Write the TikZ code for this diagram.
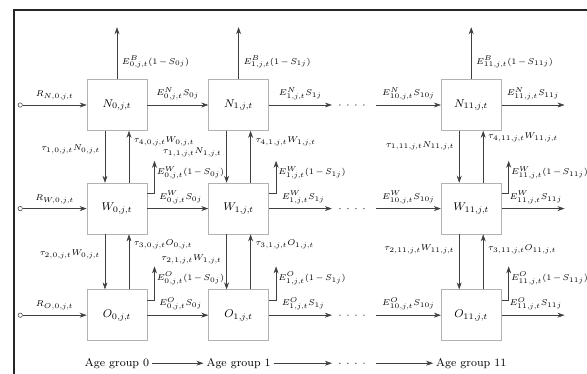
\documentclass[tikz,border=0pt]{standalone}
\usepackage{amsmath,amssymb}
\usetikzlibrary{arrows.meta, positioning, calc}
\newcommand{\jt}[1]{#1,\mkern-1mu j,\mkern-1mu t}

\begin{document}
\medmuskip=2.5mu
\begin{tikzpicture}[x=0.025cm, y=-0.025cm, font=\fontsize{6.5}{8}\selectfont, >={Stealth[length=5pt,width=3.5pt]},
    box/.style={draw=black!30, minimum width=1.5cm, minimum height=1.275cm, font=\footnotesize},
    flow/.style={->, draw=black!75},
    inflow/.style={circle, draw=black!75, inner sep=1.1pt},
    agelabel/.style={font=\footnotesize, inner sep=2pt},
    gapdots/.style={draw=black!75, line width=1pt, line cap=round, dash pattern=on 0pt off 5.7pt}]
    \useasboundingbox (0,0) rectangle (587,374);
    \draw[line width=1.6pt, black!85] (14,374) -- (14,10) -- (587,10);

    % compartments
    \node[box] (N0) at (117,105) {$N_{\jt{0}}$};
    \node[box, right=1.525cm of N0] (N1) {$N_{\jt{1}}$};
    \node[box, right=4.3cm of N1] (N11) {$N_{\jt{11}}$};
    \node[box, below=1.3cm of N0] (W0) {$W_{\jt{0}}$};
    \node[box, below=1.3cm of N1] (W1) {$W_{\jt{1}}$};
    \node[box, below=1.3cm of N11] (W11) {$W_{\jt{11}}$};
    \node[box, below=1.375cm of W0] (O0) {$O_{\jt{0}}$};
    \node[box, below=1.375cm of W1] (O1) {$O_{\jt{1}}$};
    \node[box, below=1.375cm of W11] (O11) {$O_{\jt{11}}$};

    % recruitment
    \node[inflow, left=1.6cm of N0] (rN) {};
    \node[inflow, left=1.6cm of W0] (rW) {};
    \node[inflow, left=1.6cm of O0] (rO) {};
    \draw[flow] (rN) -- node[above] {$R_{N,\jt{0}}$} (N0);
    \draw[flow] (rW) -- node[above] {$R_{W,\jt{0}}$} (W0);
    \draw[flow] (rO) -- node[above] {$R_{O,\jt{0}}$} (O0);

    % ageing, row N
    \coordinate[right=1.575cm of N1] (gN1);
    \coordinate[left=1.625cm of N11] (gN11);
    \coordinate[right=1.575cm of N11] (oN);
    \draw[flow] (N0) -- node[above] {$E^{N}_{\jt{0}}S_{0j}$} (N1);
    \draw[flow] (N1) -- node[above] {$E^{N}_{\jt{1}}S_{1j}$} (gN1);
    \draw[gapdots] ([xshift=0.2cm]gN1) -- ([xshift=-0.12cm]gN11);
    \draw[flow] (gN11) -- node[above] {$E^{N}_{\jt{10}}S_{10j}$} (N11);
    \draw[flow] (N11) -- node[above] {$E^{N}_{\jt{11}}S_{11j}$} (oN);

    % ageing, row W
    \coordinate[right=1.575cm of W1] (gW1);
    \coordinate[left=1.625cm of W11] (gW11);
    \coordinate[right=1.575cm of W11] (oW);
    \draw[flow] (W0) -- node[above, xshift=2pt] {$E^{W}_{\jt{0}}S_{0j}$} (W1);
    \draw[flow] (W1) -- node[above, xshift=2pt] {$E^{W}_{\jt{1}}S_{1j}$} (gW1);
    \draw[gapdots] ([xshift=0.2cm]gW1) -- ([xshift=-0.12cm]gW11);
    \draw[flow] (gW11) -- node[above] {$E^{W}_{\jt{10}}S_{10j}$} (W11);
    \draw[flow] (W11) -- node[above, xshift=2pt] {$E^{W}_{\jt{11}}S_{11j}$} (oW);

    % ageing, row O
    \coordinate[right=1.575cm of O1] (gO1);
    \coordinate[left=1.625cm of O11] (gO11);
    \coordinate[right=1.575cm of O11] (oO);
    \draw[flow] (O0) -- node[above, xshift=2pt] {$E^{O}_{\jt{0}}S_{0j}$} (O1);
    \draw[flow] (O1) -- node[above, xshift=2pt] {$E^{O}_{\jt{1}}S_{1j}$} (gO1);
    \draw[gapdots] ([xshift=0.2cm]gO1) -- ([xshift=-0.12cm]gO11);
    \draw[flow] (gO11) -- node[above] {$E^{O}_{\jt{10}}S_{10j}$} (O11);
    \draw[flow] (O11) -- node[above, xshift=2pt] {$E^{O}_{\jt{11}}S_{11j}$} (oO);

    % losses from N
    \coordinate[above=1.3cm of N0] (bN0);
    \coordinate[above=1.3cm of N1] (bN1);
    \coordinate[above=1.3cm of N11] (bN11);
    \draw[flow] (N0) -- node[right, pos=0.33] {$E^{B}_{\jt{0}}(1-S_{0j})$} (bN0);
    \draw[flow] (N1) -- node[right, pos=0.33] {$E^{B}_{\jt{1}}(1-S_{1j})$} (bN1);
    \draw[flow] (N11) -- node[right, pos=0.33] {$E^{B}_{\jt{11}}(1-S_{11j})$} (bN11);

    % losses from W and O
    \draw[flow] ([yshift=-0.25cm]W0.north east) -- ++(0.18cm,0) -- node[right, pos=0.62, inner sep=1.5pt] {$E^{W}_{\jt{0}}(1-S_{0j})$} ++(0,0.8cm);
    \draw[flow] ([yshift=-0.25cm]W1.north east) -- ++(0.18cm,0) -- node[right, pos=0.62, inner sep=1.5pt] {$E^{W}_{\jt{1}}(1-S_{1j})$} ++(0,0.8cm);
    \draw[flow] ([yshift=-0.25cm]W11.north east) -- ++(0.18cm,0) -- node[right, pos=0.62, inner sep=1.5pt] {$E^{W}_{\jt{11}}(1-S_{11j})$} ++(0,0.8cm);
    \draw[flow] ([yshift=-0.275cm]O0.north east) -- ++(0.18cm,0) -- node[right, pos=0.65, inner sep=1.5pt] {$E^{O}_{\jt{0}}(1-S_{0j})$} ++(0,0.85cm);
    \draw[flow] ([yshift=-0.275cm]O1.north east) -- ++(0.18cm,0) -- node[right, pos=0.65, inner sep=1.5pt] {$E^{O}_{\jt{1}}(1-S_{1j})$} ++(0,0.85cm);
    \draw[flow] ([yshift=-0.275cm]O11.north east) -- ++(0.18cm,0) -- node[right, pos=0.65, inner sep=1.5pt] {$E^{O}_{\jt{11}}(1-S_{11j})$} ++(0,0.85cm);

    % transitions N <-> W
    \draw[flow] ([xshift=-0.3cm]N0.south) -- node[left, pos=0.35] {$\tau_{1,\jt{0}}N_{\jt{0}}$} ([xshift=-0.3cm]W0.north);
    \draw[flow] ([xshift=0.3cm]W0.north) -- node[right, pos=0.8] {$\tau_{4,\jt{0}}W_{\jt{0}}$} ([xshift=0.3cm]N0.south);
    \draw[flow] ([xshift=-0.3cm]N1.south) -- node[left, pos=0.42] {$\tau_{1,\jt{1}}N_{\jt{1}}$} ([xshift=-0.3cm]W1.north);
    \draw[flow] ([xshift=0.3cm]W1.north) -- node[right, pos=0.8] {$\tau_{4,\jt{1}}W_{\jt{1}}$} ([xshift=0.3cm]N1.south);
    \draw[flow] ([xshift=-0.3cm]N11.south) -- node[left, pos=0.29] {$\tau_{1,\jt{11}}N_{\jt{11}}$} ([xshift=-0.3cm]W11.north);
    \draw[flow] ([xshift=0.3cm]W11.north) -- node[right, pos=0.88] {$\tau_{4,\jt{11}}W_{\jt{11}}$} ([xshift=0.3cm]N11.south);

    % transitions W <-> O
    \draw[flow] ([xshift=-0.3cm]W0.south) -- node[left, pos=0.36] {$\tau_{2,\jt{0}}W_{\jt{0}}$} ([xshift=-0.3cm]O0.north);
    \draw[flow] ([xshift=0.3cm]O0.north) -- node[right, pos=0.82] {$\tau_{3,\jt{0}}O_{\jt{0}}$} ([xshift=0.3cm]W0.south);
    \draw[flow] ([xshift=-0.3cm]W1.south) -- node[left, pos=0.45] {$\tau_{2,\jt{1}}W_{\jt{1}}$} ([xshift=-0.3cm]O1.north);
    \draw[flow] ([xshift=0.3cm]O1.north) -- node[right, pos=0.82] {$\tau_{3,\jt{1}}O_{\jt{1}}$} ([xshift=0.3cm]W1.south);
    \draw[flow] ([xshift=-0.3cm]W11.south) -- node[left, pos=0.27] {$\tau_{2,\jt{11}}W_{\jt{11}}$} ([xshift=-0.3cm]O11.north);
    \draw[flow] ([xshift=0.3cm]O11.north) -- node[right, pos=0.73] {$\tau_{3,\jt{11}}O_{\jt{11}}$} ([xshift=0.3cm]W11.south);

    % age groups
    \node[agelabel, below=0.35cm of O0] (A0) {Age group 0};
    \node[agelabel, below=0.35cm of O1] (A1) {Age group 1};
    \node[agelabel, below=0.35cm of O11] (A11) {Age group 11};
    \coordinate (gA1) at (gO1 |- A1);
    \coordinate (gA11) at (gO11 |- A11);
    \draw[flow] (A0) -- (A1);
    \draw[flow] (A1) -- (gA1);
    \draw[gapdots] ([xshift=0.2cm]gA1) -- ([xshift=-0.12cm]gA11);
    \draw[flow] (gA11) -- (A11);
\end{tikzpicture}
\end{document}
